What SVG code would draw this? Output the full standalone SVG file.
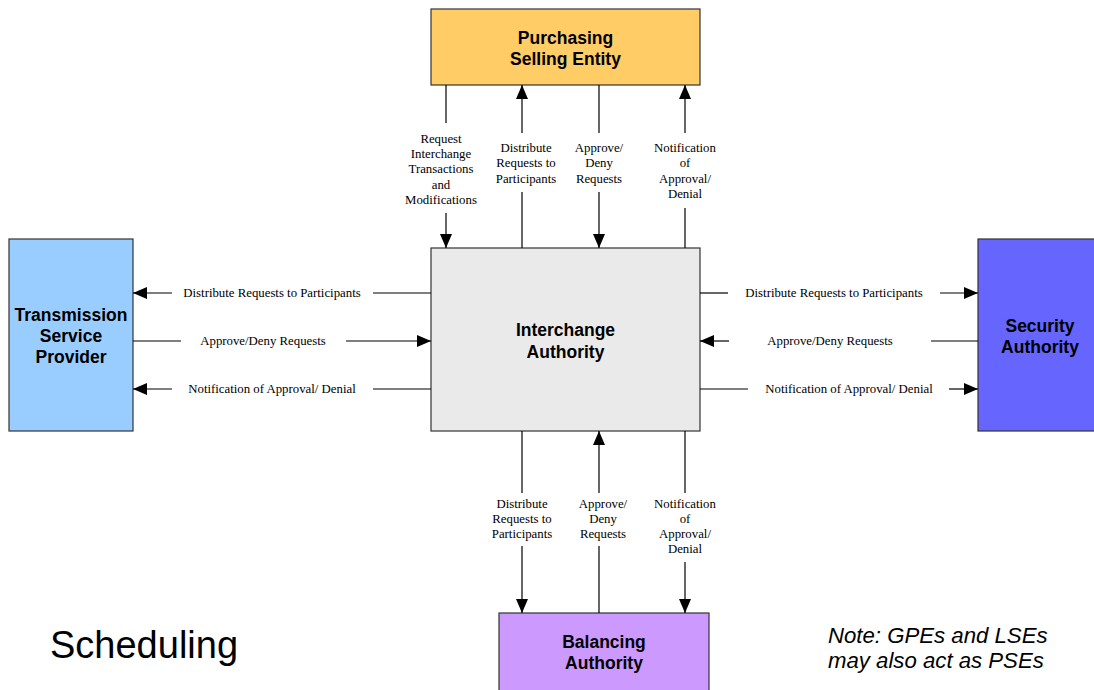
<svg xmlns="http://www.w3.org/2000/svg" width="1094" height="690" viewBox="0 0 1094 690">
<defs>
<marker id="ah" markerUnits="userSpaceOnUse" markerWidth="14" markerHeight="12" refX="14" refY="6" orient="auto">
<path d="M0,0 L14,6 L0,12 Z" fill="#000"/>
</marker>
<style>
.box{stroke:#333;stroke-width:1.2}
.bt{font-family:"Liberation Sans",Arial,sans-serif;font-weight:bold;font-size:17.5px;fill:#000;text-anchor:middle}
.lb{font-family:"Liberation Serif","Times New Roman",serif;font-size:12.8px;fill:#000;text-anchor:middle}
.ln{stroke:#000;stroke-width:1.2;fill:none}
.arr{stroke:#000;stroke-width:1.2;fill:none;marker-end:url(#ah)}
</style>
</defs>
<rect width="1094" height="690" fill="#fff"/>

<g id="pse">
<rect class="box" x="431" y="9" width="269" height="76" fill="#FFCC66"/>
<text class="bt" x="565.5" y="44">Purchasing</text>
<text class="bt" x="565.5" y="65">Selling Entity</text>
</g>
<g id="ia">
<rect class="box" x="431" y="248" width="269" height="183" fill="#EAEAEA"/>
<text class="bt" x="565.5" y="336">Interchange</text>
<text class="bt" x="565.5" y="358">Authority</text>
</g>
<g id="tsp">
<rect class="box" x="9" y="239" width="124" height="192" fill="#99CCFF"/>
<text class="bt" x="71" y="321">Transmission</text>
<text class="bt" x="71" y="342">Service</text>
<text class="bt" x="71" y="363">Provider</text>
</g>
<g id="sa">
<rect class="box" x="978" y="239" width="120" height="192" fill="#6666FF"/>
<text class="bt" x="1040" y="332">Security</text>
<text class="bt" x="1040" y="353">Authority</text>
</g>
<g id="ba">
<rect class="box" x="499" y="613" width="210" height="82" fill="#CC99FF"/>
<text class="bt" x="604" y="648">Balancing</text>
<text class="bt" x="604" y="669">Authority</text>
</g>

<g id="connectors">
<!-- top -->
<line class="ln" x1="446" y1="85" x2="446" y2="123"/>
<line class="arr" x1="446" y1="213" x2="446" y2="248"/>
<line class="ln" x1="522" y1="248" x2="522" y2="192"/>
<line class="arr" x1="522" y1="133" x2="522" y2="85"/>
<line class="ln" x1="599" y1="85" x2="599" y2="133"/>
<line class="arr" x1="599" y1="192" x2="599" y2="248"/>
<line class="ln" x1="685" y1="248" x2="685" y2="208"/>
<line class="arr" x1="685" y1="133" x2="685" y2="85"/>
<!-- left -->
<line class="ln" x1="431" y1="293" x2="373" y2="293"/>
<line class="arr" x1="172" y1="293" x2="133" y2="293"/>
<line class="ln" x1="133" y1="341" x2="181" y2="341"/>
<line class="arr" x1="346" y1="341" x2="431" y2="341"/>
<line class="ln" x1="431" y1="389" x2="373" y2="389"/>
<line class="arr" x1="172" y1="389" x2="133" y2="389"/>
<!-- right -->
<line class="ln" x1="700" y1="293" x2="728" y2="293"/>
<line class="arr" x1="940" y1="293" x2="978" y2="293"/>
<line class="ln" x1="978" y1="341" x2="931" y2="341"/>
<line class="arr" x1="729" y1="341" x2="700" y2="341"/>
<line class="ln" x1="700" y1="389" x2="748" y2="389"/>
<line class="arr" x1="949" y1="389" x2="978" y2="389"/>
<!-- bottom -->
<line class="ln" x1="522" y1="431" x2="522" y2="493"/>
<line class="arr" x1="522" y1="546" x2="522" y2="613"/>
<line class="ln" x1="599" y1="613" x2="599" y2="546"/>
<line class="arr" x1="599" y1="493" x2="599" y2="431"/>
<line class="ln" x1="685" y1="431" x2="685" y2="493"/>
<line class="arr" x1="685" y1="562" x2="685" y2="613"/>

<g id="labels">
<text class="lb" x="441" y="143">Request</text>
<text class="lb" x="441" y="158">Interchange</text>
<text class="lb" x="441" y="173">Transactions</text>
<text class="lb" x="441" y="189">and</text>
<text class="lb" x="441" y="204">Modifications</text>

<text class="lb" x="526" y="152">Distribute</text>
<text class="lb" x="526" y="167">Requests to</text>
<text class="lb" x="526" y="183">Participants</text>

<text class="lb" x="599" y="152">Approve/</text>
<text class="lb" x="599" y="167">Deny</text>
<text class="lb" x="599" y="183">Requests</text>

<text class="lb" x="685" y="152">Notification</text>
<text class="lb" x="685" y="167">of</text>
<text class="lb" x="685" y="183">Approval/</text>
<text class="lb" x="685" y="198">Denial</text>

<text class="lb" x="272" y="297">Distribute Requests to Participants</text>
<text class="lb" x="263" y="345">Approve/Deny Requests</text>
<text class="lb" x="272" y="393">Notification of Approval/ Denial</text>

<text class="lb" x="834" y="297">Distribute Requests to Participants</text>
<text class="lb" x="830" y="345">Approve/Deny Requests</text>
<text class="lb" x="849" y="393">Notification of Approval/ Denial</text>

<text class="lb" x="522" y="508">Distribute</text>
<text class="lb" x="522" y="523">Requests to</text>
<text class="lb" x="522" y="538">Participants</text>

<text class="lb" x="603" y="508">Approve/</text>
<text class="lb" x="603" y="523">Deny</text>
<text class="lb" x="603" y="538">Requests</text>

<text class="lb" x="685" y="508">Notification</text>
<text class="lb" x="685" y="523">of</text>
<text class="lb" x="685" y="538">Approval/</text>
<text class="lb" x="685" y="553">Denial</text>
</g>
</g>

<text x="50" y="658" font-family="'Liberation Sans',Arial,sans-serif" font-size="38" fill="#000">Scheduling</text>
<text x="828" y="643" font-family="'Liberation Sans',Arial,sans-serif" font-size="22.2" font-style="italic" fill="#000">Note: GPEs and LSEs</text>
<text x="828" y="668" font-family="'Liberation Sans',Arial,sans-serif" font-size="22.2" font-style="italic" fill="#000">may also act as PSEs</text>
</svg>
